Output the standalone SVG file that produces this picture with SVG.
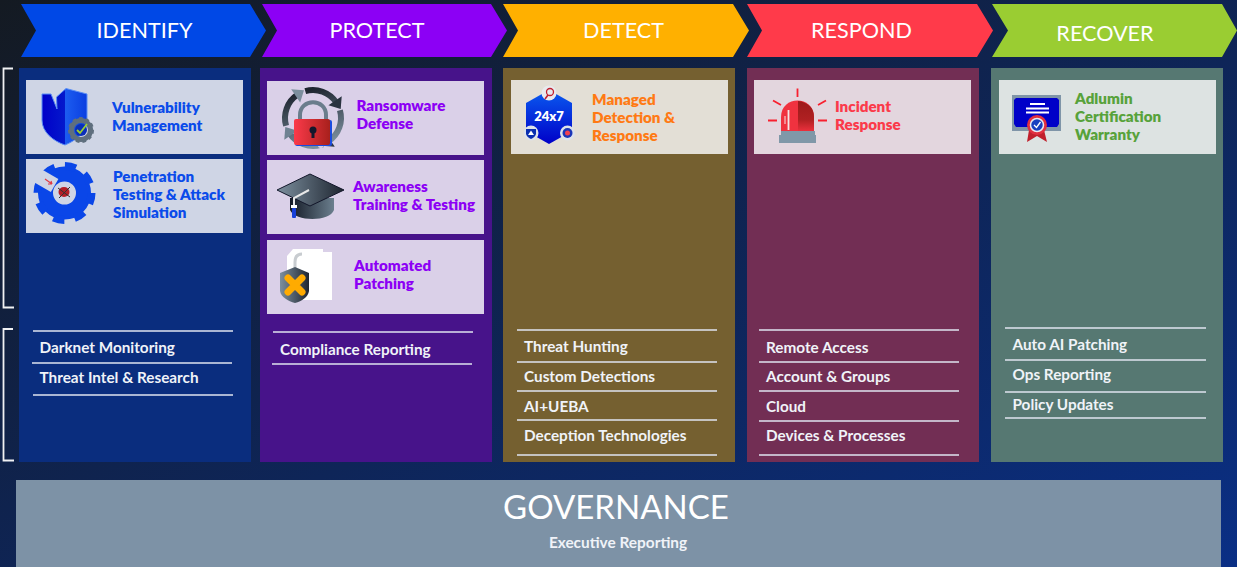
<svg xmlns="http://www.w3.org/2000/svg" width="1237" height="567" viewBox="0 0 1237 567">
<style>
text{font-family:"Lato","Open Sans","Liberation Sans",sans-serif}
.h{font-size:21.600px;fill:#fff;text-anchor:middle;font-weight:400}
.c{font-size:15.200px;font-weight:800}
.l{font-size:15.300px;font-weight:700;fill:#f0f3f8}
.r{stroke:#dfe4f0;stroke-width:1.300;fill:none}
.b{stroke:#f0f1f3;stroke-width:1.800;fill:none}
</style>
<defs>
<linearGradient id="bg" x1="0" y1="0" x2="1" y2="1"><stop offset="0" stop-color="#141a22"/><stop offset=".55" stop-color="#0e2558"/><stop offset="1" stop-color="#0a2f85"/></linearGradient>
<linearGradient id="blu" x1="0" y1="0" x2="0" y2="1"><stop offset="0" stop-color="#0a5cf0"/><stop offset="1" stop-color="#0000c8"/></linearGradient>
<linearGradient id="shd" x1="0" y1="0" x2="1" y2="0"><stop offset="0" stop-color="#0000c8"/><stop offset=".5" stop-color="#0418cc"/><stop offset=".52" stop-color="#1c5cf0"/><stop offset="1" stop-color="#0a3ee0"/></linearGradient>
<linearGradient id="gry" x1="0" y1="0" x2="1" y2="0"><stop offset="0" stop-color="#7c8f9e"/><stop offset="1" stop-color="#1e2530"/></linearGradient>
<linearGradient id="gry2" x1="0" y1="0" x2="1" y2="0"><stop offset="0" stop-color="#141a26"/><stop offset="1" stop-color="#6b7f8e"/></linearGradient>
<linearGradient id="red" x1="0" y1="0" x2="1" y2="0"><stop offset="0" stop-color="#fb3a4a"/><stop offset="1" stop-color="#a8201c"/></linearGradient>
<linearGradient id="dom" x1="0" y1="0" x2="0" y2="1"><stop offset="0" stop-color="#9c1a1a"/><stop offset=".6" stop-color="#b02022"/><stop offset="1" stop-color="#f0323f"/></linearGradient>
</defs>
<rect id="background" width="1237" height="567" fill="url(#bg)"/>

<g id="brackets">
<path class="b" d="M13 68.500H3.500V307.500H14"/>
<path class="b" d="M13 329H3.500V460.500H14"/>
</g>

<g id="identify">
<path d="M21 4H250L266 30.500L250 57H21L36 30.500Z" fill="#0048e6"/>
<text class="h" x="144.500" y="38">IDENTIFY</text>
<rect x="19" y="68" width="232" height="394" fill="#0a2d7e"/>
<g id="vulnerability-management">
<rect x="26" y="80" width="217" height="74" fill="#cfd5e5"/>
<path d="M42 94H51L57 109L56.500 97L66 88.500L87 94V122C87 132 75 141 65 145C53 141 42 132 42 120Z" fill="url(#shd)" stroke="#5b8ff5" stroke-width="1"/>
<circle cx="81" cy="130" r="9.500" fill="none" stroke="#5f6f7e" stroke-width="5"/>
<circle cx="81" cy="130" r="11.500" fill="none" stroke="#5f6f7e" stroke-width="3" stroke-dasharray="3.500 3"/>
<circle cx="81" cy="130" r="6" fill="#0a2fb8"/>
<path d="M77 130L80 133L87 124" stroke="#9bd02f" stroke-width="1.800" fill="none"/>
<text class="c" fill="#0a4bea"><tspan x="112" y="113">Vulnerability</tspan><tspan x="112" y="131">Management</tspan></text>
</g>
<g id="penetration-testing">
<rect x="26" y="159" width="217" height="74" fill="#cfd5e5"/>
<circle cx="64.500" cy="193" r="19" fill="none" stroke="#0a46e8" stroke-width="15"/>
<circle cx="64.500" cy="193" r="27" fill="none" stroke="#0a46e8" stroke-width="8" stroke-dasharray="11 10.200"/>
<rect x="32" y="172" width="24" height="15" fill="#cfd5e5" transform="rotate(30 44 180)"/>
<ellipse cx="64" cy="192" rx="5.500" ry="5" fill="#b51e26"/>
<path d="M58 188L70 197M70 187L59 198" stroke="#333" stroke-width="1"/>
<path d="M45 179L52 184M52 184L48 184M52 184L51 181" stroke="#e03a44" stroke-width="1.200" fill="none"/>
<text class="c" fill="#0a4bea"><tspan x="113" y="182">Penetration</tspan><tspan x="113" y="200">Testing &amp; Attack</tspan><tspan x="113" y="218">Simulation</tspan></text>
</g>
<text class="l" x="39.500" y="353">Darknet Monitoring</text>
<text class="l" x="39.500" y="383">Threat Intel &amp; Research</text>
<path class="r" d="M33 331H233M32 363H232M33 395H233"/>
</g>

<g id="protect">
<path d="M262 4H491L507 30.500L491 57H262L277 30.500Z" fill="#8c00f5"/>
<text class="h" x="377" y="38">PROTECT</text>
<rect x="260" y="68" width="232" height="394" fill="#47138a"/>
<g id="ransomware-defense">
<rect x="267" y="81" width="217" height="74" fill="#dad0e8"/>
<circle cx="313" cy="118" r="28" fill="none" stroke="url(#gry)" stroke-width="6" pathLength="100" stroke-dasharray="20 5" transform="rotate(254 313 118)"/>
<path d="M333 116H349L341 126Z" fill="#2a3340" transform="rotate(326 313 118)"/>
<path d="M333 116H349L341 126Z" fill="#2a3340" transform="rotate(56 313 118)"/>
<path d="M333 116H349L341 126Z" fill="#6f8292" transform="rotate(146 313 118)"/>
<path d="M333 116H349L341 126Z" fill="#7c8f9e" transform="rotate(236 313 118)"/>
<path d="M300 123V115C300 98 326 98 326 115V123" fill="none" stroke="#6a7d8c" stroke-width="4"/>
<rect x="295" y="120" width="37" height="26" rx="2" fill="#1a4be0"/>
<rect x="294" y="119" width="36" height="26" rx="2" fill="url(#red)"/>
<circle cx="313" cy="130" r="3.500" fill="#14182c"/>
<rect x="311.500" y="131" width="3" height="7" fill="#14182c"/>
<text class="c" fill="#8c00f5"><tspan x="356.500" y="111">Ransomware</tspan><tspan x="356.500" y="129">Defense</tspan></text>
</g>
<g id="awareness-training">
<rect x="267" y="160" width="217" height="74" fill="#dad0e8"/>
<path d="M290 198V210C295 222 330 222 334 210V198Z" fill="url(#gry2)"/>
<path d="M277 190L310 174L344 190L310 206Z" fill="url(#gry)" stroke="#12162a" stroke-width="1"/>
<path d="M309 190L294 198V205" stroke="#e8e8e8" stroke-width="2" fill="none"/>
<rect x="291" y="205" width="6" height="3" fill="#fff"/>
<rect x="292" y="208" width="4" height="10" rx="1" fill="#1740d8"/>
<text class="c" fill="#8c00f5"><tspan x="353" y="192">Awareness</tspan><tspan x="353" y="210">Training &amp; Testing</tspan></text>
</g>
<g id="automated-patching">
<rect x="267" y="240" width="217" height="74" fill="#dad0e8"/>
<path d="M293 249H323L323 252H332V300H287V256Z" fill="#fff"/>
<path d="M295 278V262C295 256 298 254 302 254" stroke="#c8ccd0" stroke-width="3" fill="none"/>
<path d="M295 267L309 273V291C308 297 302 301 295 303C288 301 281 297 280 291V273Z" fill="url(#gry)"/>
<path d="M288 278L302 292M302 278L288 292" stroke="#ffab00" stroke-width="7" stroke-linecap="round"/>
<text class="c" fill="#8c00f5"><tspan x="354" y="271">Automated</tspan><tspan x="354" y="289">Patching</tspan></text>
</g>
<text class="l" x="280" y="355">Compliance Reporting</text>
<path class="r" d="M273 332H473M272 364H472"/>
</g>

<g id="detect">
<path d="M503 4H733L749 30.500L733 57H503L518 30.500Z" fill="#ffb000"/>
<text class="h" x="623.500" y="38">DETECT</text>
<rect x="503" y="68" width="232" height="394" fill="#756030"/>
<g id="managed-detection">
<rect x="511" y="80" width="217" height="74" fill="#e3dfd6"/>
<path d="M549 90L572 103V131L549 144L526 131V103Z" fill="url(#blu)"/>
<circle cx="549" cy="93" r="7.500" fill="#e8eaee"/>
<circle cx="550" cy="92" r="3.500" fill="none" stroke="#c02030" stroke-width="1.300"/>
<path d="M548 95L545 99" stroke="#c02030" stroke-width="1.500"/>
<circle cx="531" cy="133" r="7.500" fill="#dde2ea"/>
<path d="M526 129H536V134C535 137 533 138 531 139C529 138 527 137 526 134Z" fill="#0a2fb0"/>
<path d="M531 130.500L534 135H528Z" fill="#fff"/>
<circle cx="567.500" cy="133" r="7.500" fill="#dde2ea"/>
<circle cx="567.500" cy="133" r="5" fill="#1a35b8"/>
<circle cx="567.500" cy="133" r="2.500" fill="#f04050"/>
<text x="549" y="121" font-size="13" font-weight="800" fill="#fff" text-anchor="middle">24x7</text>
<text class="c" fill="#ff7a14"><tspan x="592" y="105">Managed</tspan><tspan x="592" y="123">Detection &amp;</tspan><tspan x="592" y="141">Response</tspan></text>
</g>
<text class="l" x="524" y="352">Threat Hunting</text>
<text class="l" x="524" y="382">Custom Detections</text>
<text class="l" x="524" y="412">AI+UEBA</text>
<text class="l" x="524" y="441">Deception Technologies</text>
<path class="r" d="M517 330H717M517 362H717M517 391H717M517 420H717M517 455H717"/>
</g>

<g id="respond">
<path d="M747 4H977L993 30.500L977 57H747L762 30.500Z" fill="#ff3a4a"/>
<text class="h" x="861.500" y="38">RESPOND</text>
<rect x="747" y="68" width="232" height="394" fill="#722e54"/>
<g id="incident-response">
<rect x="754" y="80" width="217" height="74" fill="#e3d6de"/>
<path d="M781 132V117C781 95 814 95 814 117V132Z" fill="#f0323f"/>
<path d="M798 101C808 102 814 108 814 117V132H798Z" fill="url(#dom)"/>
<path d="M788.500 110V130" stroke="#f4e6e6" stroke-width="1.800"/>
<path d="M785 116V124" stroke="#f4e6e6" stroke-width="1"/>
<rect x="781" y="131" width="34" height="4" fill="#8098a8"/>
<rect x="779" y="135" width="37" height="8" fill="#8098a8"/>
<path d="M797.500 88.500V97M773 100.500L781 105M826 100.500L818 105M768 120.500H777M818 120.500H827" stroke="#f8202f" stroke-width="1.800"/>
<text class="c" fill="#fb3a4a"><tspan x="835" y="112">Incident</tspan><tspan x="835" y="130">Response</tspan></text>
</g>
<text class="l" x="766" y="353">Remote Access</text>
<text class="l" x="766" y="382">Account &amp; Groups</text>
<text class="l" x="766" y="412">Cloud</text>
<text class="l" x="766" y="441">Devices &amp; Processes</text>
<path class="r" d="M759 330H959M759 362H959M759 391H959M759 421H959M759 455H959"/>
</g>

<g id="recover">
<path d="M992 4H1222L1237 30.500L1222 57H992L1008 30.500Z" fill="#9acd32"/>
<text class="h" x="1105" y="41">RECOVER</text>
<rect x="991" y="68" width="232" height="394" fill="#567872"/>
<g id="adlumin-warranty">
<rect x="999" y="80" width="217" height="74" fill="#dde3e2"/>
<rect x="1012" y="95" width="49" height="36" fill="#7f95a8"/>
<path d="M1016 98H1057L1059 100V124L1057 127H1016L1014 124V100Z" fill="#0000c8"/>
<path d="M1030 104H1045M1026 108.500H1049M1026 112.500H1049" stroke="#fff" stroke-width="2"/>
<path d="M1029 130L1027 142L1032 139L1037 136L1042 139L1047 142L1044 130Z" fill="#c0202c"/>
<circle cx="1037" cy="125" r="10" fill="#e03040"/>
<circle cx="1037" cy="125" r="6.500" fill="#1840c0" stroke="#e8eaf0" stroke-width="1.500"/>
<path d="M1034 125L1036.500 127.500L1040.500 122" stroke="#fff" stroke-width="1.300" fill="none"/>
<text class="c" fill="#57a23a"><tspan x="1075" y="104">Adlumin</tspan><tspan x="1075" y="122">Certification</tspan><tspan x="1075" y="140">Warranty</tspan></text>
</g>
<text class="l" x="1012.500" y="350">Auto AI Patching</text>
<text class="l" x="1012.500" y="380">Ops Reporting</text>
<text class="l" x="1012.500" y="410">Policy Updates</text>
<path class="r" d="M1005 328H1206M1005 360H1206M1005 392H1206M1005 418H1206"/>
</g>

<g id="governance">
<rect x="16" y="480" width="1205" height="87" fill="#7d92a6"/>
<text x="616" y="519" font-size="33" fill="#fff" text-anchor="middle">GOVERNANCE</text>
<text x="618" y="548" font-size="15.400" font-weight="700" fill="#f0f3f8" text-anchor="middle">Executive Reporting</text>
</g>
<g id="connectors"/>
</svg>
